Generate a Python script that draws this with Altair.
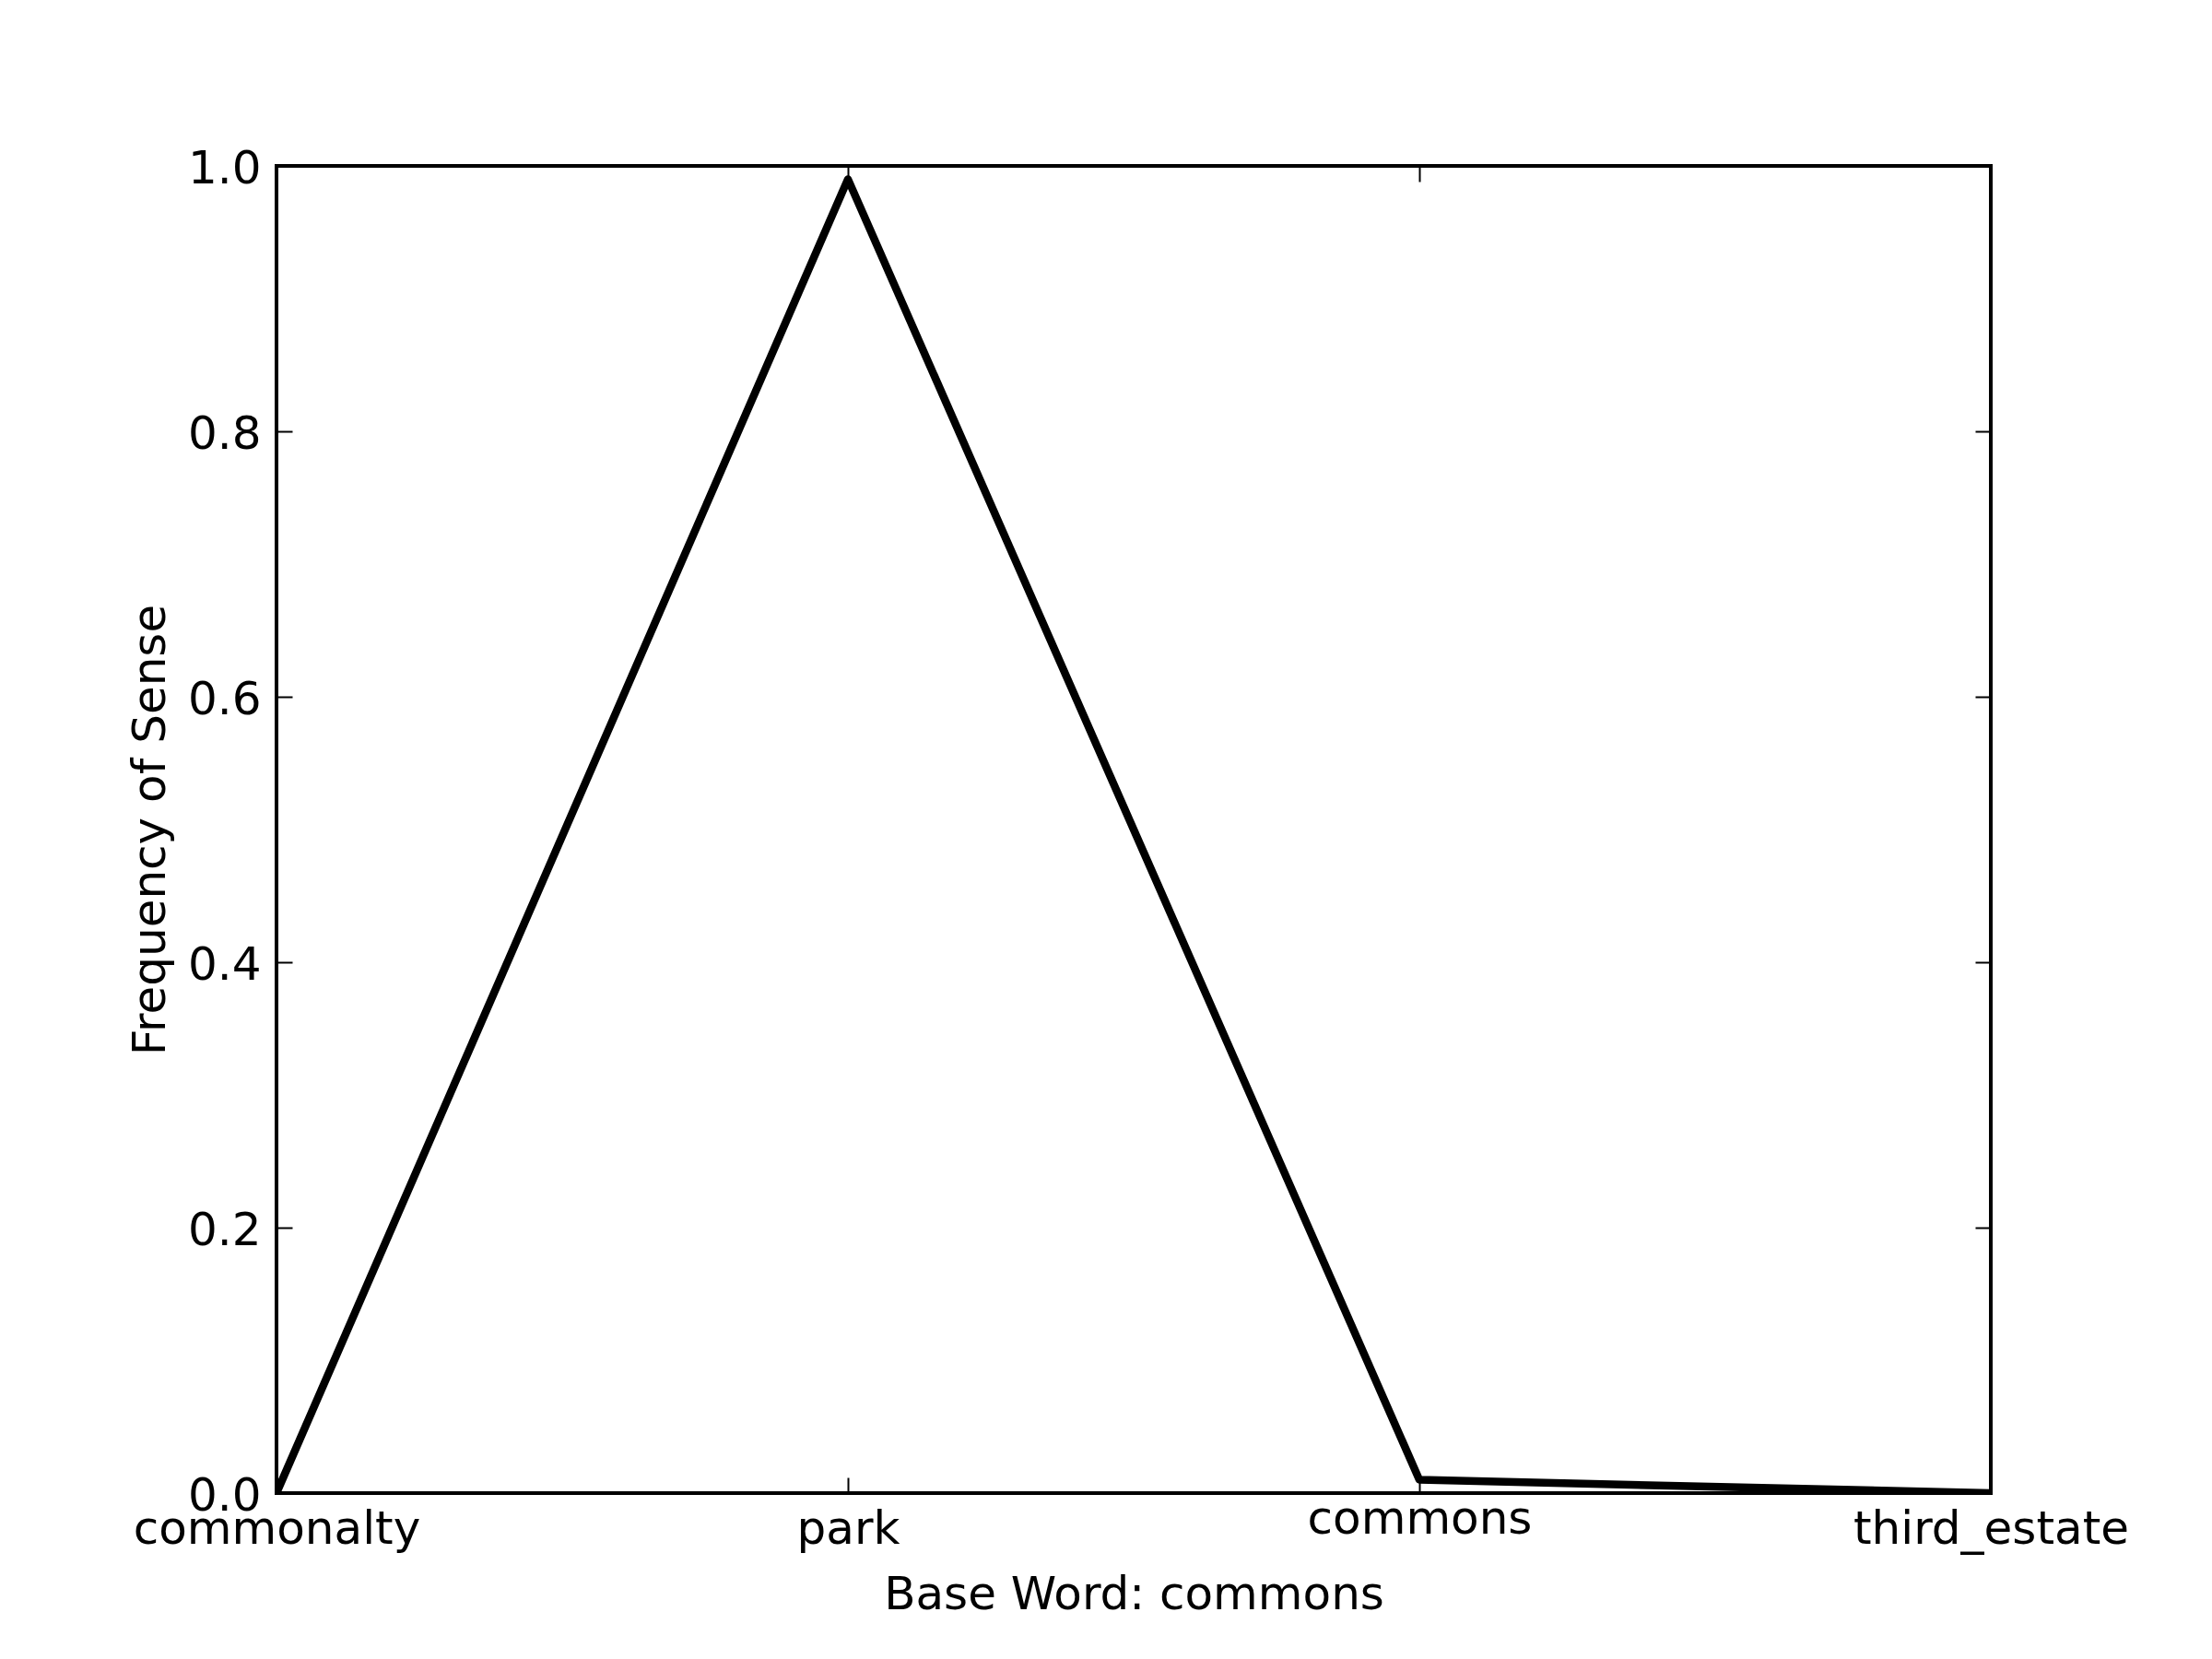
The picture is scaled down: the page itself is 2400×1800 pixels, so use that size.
import altair as alt
import pandas as pd

# ---- data ----
senses = ["commonalty", "park", "commons", "third_estate"]
frequency = [0.0, 0.99, 0.01, 0.0]
y_tick_values = [0.0, 0.2, 0.4, 0.6, 0.8, 1.0]
x_title = "Base Word: commons"
y_title = "Frequency of Sense"

df = pd.DataFrame({"sense": senses, "freq": frequency})

W, H = 1860, 1440
FONT = "DejaVu Sans"
FS = 50

xscale = alt.Scale(type="point", domain=senses, padding=0)
yscale = alt.Scale(domain=[0, 1], nice=False, zero=True)

base = alt.Chart(df)

line = base.mark_line(color="black", strokeWidth=8.5, clip=True, strokeJoin="round").encode(
    x=alt.X(
        "sense:N",
        sort=senses,
        scale=xscale,
        axis=alt.Axis(
            orient="bottom",
            ticks=False,
            tickSize=0,
            domain=False,
            grid=False,
            labelAngle=0,
            labelFlush=False,
            labelLimit=0,
            labelOverlap=False,
            labelBaseline="top",
            labelPadding={"condition": {"test": "datum.label == 'commons'", "value": 3}, "value": 14},
            title=x_title,
            titleX=W / 2,
            titleY=125,
            titleAlign="center",
            titleBaseline="alphabetic",
        ),
    ),
    y=alt.Y(
        "freq:Q",
        scale=yscale,
        axis=alt.Axis(
            orient="left",
            values=y_tick_values,
            format=".1f",
            ticks=False,
            tickSize=0,
            domain=False,
            grid=False,
            labelLimit=0,
            labelOverlap=False,
            labelFlush=False,
            labelPadding=17,
            labelBaseline="alphabetic",
            labelOffset=18,
            title=y_title,
            titleX=-122,
            titleY=H / 2,
            titleAngle=-90,
            titleAlign="center",
            titleBaseline="alphabetic",
        ),
    ),
)

tick_style = dict(
    domain=False, labels=False, grid=False, title=None,
    ticks=True, tickSize=17, tickWidth=2, tickColor="black",
)

ticks_a = base.mark_line(opacity=0).encode(
    x=alt.X("sense:N", sort=senses, scale=xscale,
            axis=alt.Axis(orient="top", offset=-H, **tick_style)),
    y=alt.Y("freq:Q", scale=yscale,
            axis=alt.Axis(orient="right", offset=-W, values=y_tick_values, **tick_style)),
)

ticks_b = base.mark_line(opacity=0).encode(
    x=alt.X("sense:N", sort=senses, scale=xscale,
            axis=alt.Axis(orient="bottom", offset=-H, **tick_style)),
    y=alt.Y("freq:Q", scale=yscale,
            axis=alt.Axis(orient="left", offset=-W, values=y_tick_values, **tick_style)),
)

chart = (
    alt.layer(line, ticks_a, ticks_b)
    .resolve_axis(x="independent", y="independent")
    .properties(
        width=W,
        height=H,
        autosize=alt.AutoSizeParams(type="none"),
        padding={"left": 292, "top": 172, "right": 232, "bottom": 172},
        background="white",
    )
    .configure_view(stroke="black", strokeWidth=4, fill="white")
    .configure_axis(
        labelFont=FONT,
        labelFontSize=FS,
        labelColor="black",
        titleFont=FONT,
        titleFontSize=FS,
        titleColor="black",
        titleFontWeight="normal",
    )
)

chart.save("out.html", embed_options={"renderer": "svg", "actions": False})
